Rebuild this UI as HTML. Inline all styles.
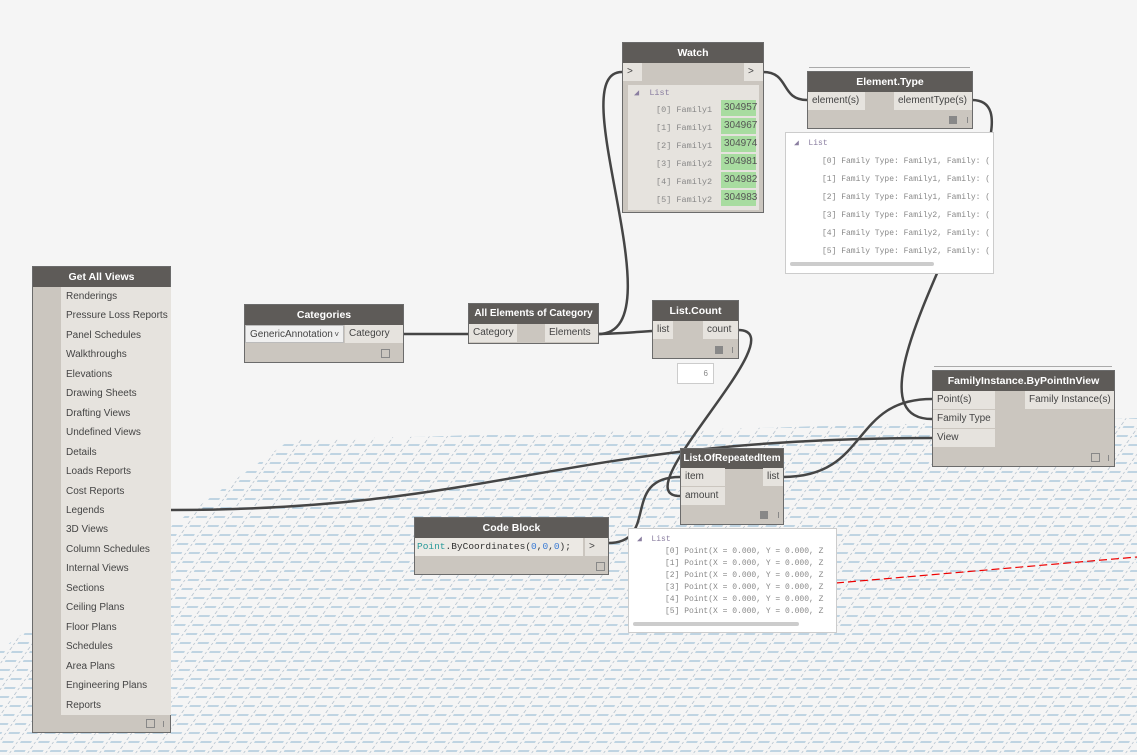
<!DOCTYPE html>
<html><head><meta charset="utf-8"><style>
body{margin:0;width:1137px;height:755px;background:#f5f5f5;position:relative;overflow:hidden;font-family:"Liberation Sans",sans-serif;font-size:10px;color:#444}
.n{position:absolute;background:#cbc6bf;border:1px solid #6b6b6b;box-sizing:border-box}
.h{background:#5e5b58;color:#fff;font-weight:bold;text-align:center;height:20px;line-height:20px;font-size:10.5px;white-space:nowrap}
.p{position:absolute;background:#e6e3de;height:18px;line-height:18px;padding:0 4px;box-sizing:border-box;white-space:nowrap}
.mono{font-family:"Liberation Mono",monospace;font-size:8.5px;color:#888}
.prev{position:absolute;background:#fff;border:1px solid #ccc;box-sizing:border-box}
.sq{position:absolute;width:7px;height:7px;border:1px solid #888}
.sqf{position:absolute;width:8px;height:8px;background:#888}
.bar{position:absolute;width:1px;height:6px;background:#888}
</style></head><body>
<svg width="1137" height="755" style="position:absolute;left:0;top:0">
<defs>
<pattern id="g" width="18" height="9" patternUnits="userSpaceOnUse" patternTransform="skewX(-35)">
<line x1="0" y1="4" x2="11" y2="4" stroke="#9cbfd6" stroke-width="1.2"/>
<line x1="15" y1="0" x2="15" y2="9" stroke="#a9b8c6" stroke-width="0.8" stroke-dasharray="2,2"/>
</pattern>
</defs>
<polygon points="0,650 290,440 600,432 1137,418 1137,755 0,755" fill="url(#g)"/>
<line x1="836" y1="583" x2="1137" y2="557" stroke="#e00" stroke-width="1.2" stroke-dasharray="8,4"/>
<g fill="none" stroke="#454545" stroke-width="2.5">
<path d="M403,334 L468,334"/>
<path d="M598,334 C610,334 652,331 652,331"/>
<path d="M598,334 C680,334 560,72 622,72"/>
<path d="M763,72 C790,72 780,100 807,100"/>
<path d="M972,100 C1060,100 820,419 932,419"/>
<path d="M738,330 C800,330 620,496 680,496"/>
<path d="M608,543 C660,543 620,477 680,477"/>
<path d="M783,477 C870,477 850,399 932,399"/>
<path d="M170,510 C500,510 560,438 932,438"/>
</g>
</svg>

<!-- Get All Views -->
<div class="n" style="left:32px;top:266px;width:139px;height:467px">
<div class="h">Get All Views</div>
<div style="position:absolute;left:28px;top:20px;width:110px;height:428px;background:#e6e3de;font-size:10px;line-height:19.45px">
<div style="padding-left:5px">Renderings</div>
<div style="padding-left:5px">Pressure Loss Reports</div>
<div style="padding-left:5px">Panel Schedules</div>
<div style="padding-left:5px">Walkthroughs</div>
<div style="padding-left:5px">Elevations</div>
<div style="padding-left:5px">Drawing Sheets</div>
<div style="padding-left:5px">Drafting Views</div>
<div style="padding-left:5px">Undefined Views</div>
<div style="padding-left:5px">Details</div>
<div style="padding-left:5px">Loads Reports</div>
<div style="padding-left:5px">Cost Reports</div>
<div style="padding-left:5px">Legends</div>
<div style="padding-left:5px">3D Views</div>
<div style="padding-left:5px">Column Schedules</div>
<div style="padding-left:5px">Internal Views</div>
<div style="padding-left:5px">Sections</div>
<div style="padding-left:5px">Ceiling Plans</div>
<div style="padding-left:5px">Floor Plans</div>
<div style="padding-left:5px">Schedules</div>
<div style="padding-left:5px">Area Plans</div>
<div style="padding-left:5px">Engineering Plans</div>
<div style="padding-left:5px">Reports</div>
</div>
<div class="sq" style="left:113px;top:452px"></div><div class="bar" style="left:130px;top:454px"></div>
</div>

<!-- Categories -->
<div class="n" style="left:244px;top:304px;width:160px;height:59px">
<div class="h">Categories</div>
<div class="p" style="left:0;top:20px;width:99px;background:#f0f0f0;border:1px solid #bbb">GenericAnnotation <span style="float:right;font-size:8px">˅</span></div>
<div class="p" style="left:100px;top:20px;width:58px">Category</div>
<div class="sq" style="left:136px;top:44px"></div>
</div>

<!-- All Elements of Category -->
<div class="n" style="left:468px;top:303px;width:131px;height:41px">
<div class="h" style="font-size:10px">All Elements of Category</div>
<div class="p" style="left:0;top:20px;width:48px">Category</div>
<div class="p" style="left:76px;top:20px;width:53px">Elements</div>
</div>

<!-- List.Count -->
<div class="n" style="left:652px;top:300px;width:87px;height:59px">
<div class="h">List.Count</div>
<div class="p" style="left:0;top:20px;width:20px">list</div>
<div class="p" style="left:50px;top:20px;width:35px">count</div>
<div class="sqf" style="left:62px;top:45px"></div><div class="bar" style="left:79px;top:46px"></div>
</div>
<div class="prev" style="left:677px;top:363px;width:37px;height:21px;text-align:right;padding:5px 5px 0 0;font-size:8px;color:#888">6</div>

<!-- Watch -->
<div class="n" style="left:622px;top:42px;width:142px;height:171px">
<div class="h">Watch</div>
<div class="p" style="left:0;top:20px;width:19px">&gt;</div>
<div class="p" style="left:121px;top:20px;width:19px">&gt;</div>
<div style="position:absolute;left:5px;top:42px;width:131px;height:125px;background:#e6e3de" class="mono">
<div style="position:absolute;left:6px;top:3px;color:#8a7ea0">◢ &nbsp;List</div>
<div style="position:absolute;left:28px;top:16px;line-height:18px">[0] Family1<br>[1] Family1<br>[2] Family1<br>[3] Family2<br>[4] Family2<br>[5] Family2</div>
<div style="position:absolute;left:93px;top:15px;width:35px;line-height:16px;color:#555;font-family:'Liberation Sans',sans-serif;font-size:10px">
<div style="background:#a8dca0;margin-bottom:2px;padding-left:3px">304957</div><div style="background:#a8dca0;margin-bottom:2px;padding-left:3px">304967</div><div style="background:#a8dca0;margin-bottom:2px;padding-left:3px">304974</div><div style="background:#a8dca0;margin-bottom:2px;padding-left:3px">304981</div><div style="background:#a8dca0;margin-bottom:2px;padding-left:3px">304982</div><div style="background:#a8dca0;padding-left:3px">304983</div>
</div></div>
</div>

<!-- Element.Type -->
<div style="position:absolute;left:809px;top:67px;width:161px;height:3px;border-top:1px solid #aaa;border-bottom:1px solid #aaa"></div>
<div class="n" style="left:807px;top:71px;width:166px;height:58px">
<div class="h">Element.Type</div>
<div class="p" style="left:0;top:20px;width:57px">element(s)</div>
<div class="p" style="left:86px;top:20px;width:78px">elementType(s)</div>
<div class="sqf" style="left:141px;top:44px"></div><div class="bar" style="left:159px;top:45px"></div>
</div>
<div class="prev mono" style="left:785px;top:132px;width:209px;height:142px;overflow:hidden;font-size:8px">
<div style="position:absolute;left:8px;top:5px;color:#8a7ea0">◢ &nbsp;List</div>
<div style="position:absolute;left:36px;top:20px;line-height:18px;white-space:nowrap">[0] Family Type: Family1, Family: (<br>[1] Family Type: Family1, Family: (<br>[2] Family Type: Family1, Family: (<br>[3] Family Type: Family2, Family: (<br>[4] Family Type: Family2, Family: (<br>[5] Family Type: Family2, Family: (</div>
<div style="position:absolute;left:4px;top:129px;width:144px;height:4px;background:#ccc;border-radius:2px"></div>
</div>

<!-- FamilyInstance.ByPointInView -->
<div style="position:absolute;left:934px;top:366px;width:178px;height:3px;border-top:1px solid #aaa;border-bottom:1px solid #aaa"></div>
<div class="n" style="left:932px;top:370px;width:183px;height:97px">
<div class="h">FamilyInstance.ByPointInView</div>
<div class="p" style="left:0;top:20px;width:62px">Point(s)</div>
<div class="p" style="left:0;top:39px;width:62px">Family Type</div>
<div class="p" style="left:0;top:58px;width:62px">View</div>
<div class="p" style="left:92px;top:20px;width:89px">Family Instance(s)</div>
<div class="sq" style="left:158px;top:82px"></div><div class="bar" style="left:175px;top:84px"></div>
</div>

<!-- List.OfRepeatedItem -->
<div class="n" style="left:680px;top:448px;width:104px;height:77px">
<div class="h" style="font-size:10px">List.OfRepeatedItem</div>
<div class="p" style="left:0;top:19px;width:44px">item</div>
<div class="p" style="left:0;top:38px;width:44px">amount</div>
<div class="p" style="left:82px;top:19px;width:20px">list</div>
<div class="sqf" style="left:79px;top:62px"></div><div class="bar" style="left:97px;top:63px"></div>
</div>

<!-- Code Block -->
<div class="n" style="left:414px;top:517px;width:195px;height:58px">
<div class="h">Code Block</div>
<div class="p" style="left:0;top:20px;width:168px;background:#ece9e4;font-family:'Liberation Mono',monospace;font-size:9.5px;color:#333;padding-left:2px"><span style="color:#2a9a9a">Point</span>.ByCoordinates(<span style="color:#3a7bd5">0</span>,<span style="color:#3a7bd5">0</span>,<span style="color:#3a7bd5">0</span>);</div>
<div class="p" style="left:170px;top:20px;width:23px">&gt;</div>
<div class="sq" style="left:181px;top:44px"></div>
</div>
<div class="prev mono" style="left:628px;top:528px;width:209px;height:105px;overflow:hidden;font-size:8px">
<div style="position:absolute;left:8px;top:5px;color:#8a7ea0">◢ &nbsp;List</div>
<div style="position:absolute;left:36px;top:17px;line-height:12px;white-space:nowrap">[0] Point(X = 0.000, Y = 0.000, Z<br>[1] Point(X = 0.000, Y = 0.000, Z<br>[2] Point(X = 0.000, Y = 0.000, Z<br>[3] Point(X = 0.000, Y = 0.000, Z<br>[4] Point(X = 0.000, Y = 0.000, Z<br>[5] Point(X = 0.000, Y = 0.000, Z</div>
<div style="position:absolute;left:4px;top:93px;width:166px;height:4px;background:#ccc;border-radius:2px"></div>
</div>
</body></html>
